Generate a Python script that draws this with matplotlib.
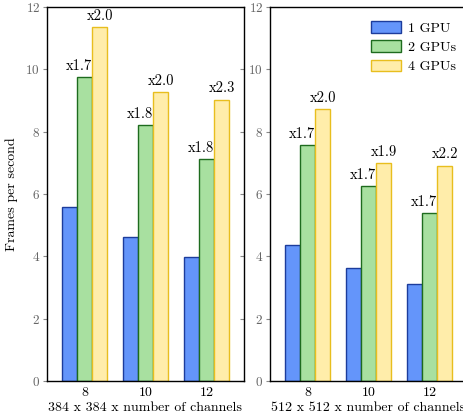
import numpy as np
import matplotlib
matplotlib.use("Agg")
import matplotlib.pyplot as plt

plt.rcParams['font.family'] = 'serif'
plt.rcParams['font.serif'] = ['cmr10']
plt.rcParams['mathtext.fontset'] = 'cm'
plt.rcParams['axes.formatter.use_mathtext'] = True

channels = ['8', '10', '12']
series = ['1 GPU', '2 GPUs', '4 GPUs']

fps_384 = {
    '1 GPU': [5.58, 4.62, 3.97],
    '2 GPUs': [9.74, 8.21, 7.11],
    '4 GPUs': [11.35, 9.27, 9.03],
}
speedup_384 = {
    '2 GPUs': ['x1.7', 'x1.8', 'x1.8'],
    '4 GPUs': ['x2.0', 'x2.0', 'x2.3'],
}

fps_512 = {
    '1 GPU': [4.37, 3.61, 3.12],
    '2 GPUs': [7.56, 6.25, 5.38],
    '4 GPUs': [8.72, 6.98, 6.91],
}
speedup_512 = {
    '2 GPUs': ['x1.7', 'x1.7', 'x1.7'],
    '4 GPUs': ['x2.0', 'x1.9', 'x2.2'],
}

xlabels = ['384 x 384 x number of channels', '512 x 512 x number of channels']

fills = {'1 GPU': '#6495FA', '2 GPUs': '#A8E0A0', '4 GPUs': '#FFEDAA'}
edges = {'1 GPU': '#1C3C9C', '2 GPUs': '#1E6B1E', '4 GPUs': '#E8BE1E'}

W, H = 463, 419
fig = plt.figure(figsize=(W / 100, H / 100), dpi=100)
ax1 = fig.add_axes([47 / W, 1 - 381 / H, 197 / W, 374 / H])
ax2 = fig.add_axes([270 / W, 1 - 381 / H, 197 / W, 374 / H])

x = np.arange(len(channels))
w = 0.25

for ax, data, sp, xl in [(ax1, fps_384, speedup_384, xlabels[0]),
                         (ax2, fps_512, speedup_512, xlabels[1])]:
    for i, s in enumerate(series):
        pos = x + (i - 1) * w
        bars = ax.bar(pos, data[s], w, color=fills[s], edgecolor=edges[s],
                      linewidth=1.0, label=s)
        if s == '2 GPUs':
            for b, t in zip(bars, sp[s]):
                ax.annotate(t, (b.get_x() + b.get_width(), b.get_height()),
                            xytext=(0, 3), textcoords='offset points',
                            ha='right', va='bottom', fontsize=10.5)
        elif s == '4 GPUs':
            for b, t in zip(bars, sp[s]):
                ax.annotate(t, (b.get_x() + b.get_width() / 2, b.get_height()),
                            xytext=(0, 3), textcoords='offset points',
                            ha='center', va='bottom', fontsize=10.5)
    ax.set_xlim(-0.615, 2.615)
    ax.set_ylim(0, 12)
    ax.set_yticks([0, 2, 4, 6, 8, 10, 12])
    ax.set_xticks(x)
    ax.set_xticklabels(channels)
    ax.set_xlabel(xl, fontsize=10, labelpad=2)
    ax.tick_params(axis='x', length=0, labelsize=10, pad=4)
    ax.tick_params(axis='y', which='both', direction='out', length=3,
                   color='#888888', labelcolor='#666666', labelsize=9.5, pad=2)
    ax.tick_params(axis='y', which='both', right=True)
    for side in ['top', 'right', 'left', 'bottom']:
        ax.spines[side].set_linewidth(1.0)
    # ticks on the right spine point inward
    for t in ax.yaxis.get_major_ticks():
        t.tick2line.set_marker(matplotlib.lines.TICKLEFT)

ax1.set_ylabel('Frames per second', fontsize=10, labelpad=5)
ax2.legend(loc='upper right', bbox_to_anchor=(1.01, 0.995), frameon=False,
           fontsize=10, handlelength=2.2, handleheight=0.9,
           labelspacing=0.4, handletextpad=0.5)

fig.savefig('out.png', dpi=100)
